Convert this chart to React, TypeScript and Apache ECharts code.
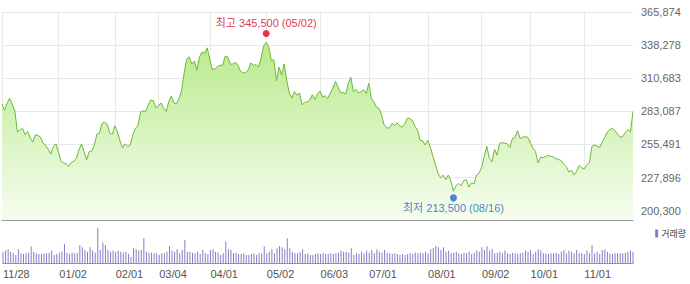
import React, { useEffect, useRef } from "react";
import * as echarts from "echarts";

// Trading days (2018-11-28 .. 2019-11-28), MM/DD
const dates: string[] = [
  "11/28","11/29","11/30",
  "12/03","12/04","12/05","12/06","12/07","12/10","12/11","12/12","12/13","12/14","12/17","12/18","12/19","12/20","12/21","12/24","12/26","12/27","12/28",
  "01/02","01/03","01/04","01/07","01/08","01/09","01/10","01/11","01/14","01/15","01/16","01/17","01/18","01/21","01/22","01/23","01/24","01/25","01/28","01/29","01/30","01/31",
  "02/01","02/07","02/08","02/11","02/12","02/13","02/14","02/15","02/18","02/19","02/20","02/21","02/22","02/25","02/26","02/27","02/28",
  "03/04","03/05","03/06","03/07","03/08","03/11","03/12","03/13","03/14","03/15","03/18","03/19","03/20","03/21","03/22","03/25","03/26","03/27","03/28","03/29",
  "04/01","04/02","04/03","04/04","04/05","04/08","04/09","04/10","04/11","04/12","04/15","04/16","04/17","04/18","04/19","04/22","04/23","04/24","04/25","04/26","04/29","04/30",
  "05/02","05/03","05/07","05/08","05/09","05/10","05/13","05/14","05/15","05/16","05/17","05/20","05/21","05/22","05/23","05/24","05/27","05/28","05/29","05/30","05/31",
  "06/03","06/04","06/05","06/07","06/10","06/11","06/12","06/13","06/14","06/17","06/18","06/19","06/20","06/21","06/24","06/25","06/26","06/27","06/28",
  "07/01","07/02","07/03","07/04","07/05","07/08","07/09","07/10","07/11","07/12","07/15","07/16","07/17","07/18","07/19","07/22","07/23","07/24","07/25","07/26","07/29","07/30","07/31",
  "08/01","08/02","08/05","08/06","08/07","08/08","08/09","08/12","08/13","08/14","08/16","08/19","08/20","08/21","08/22","08/23","08/26","08/27","08/28","08/29","08/30",
  "09/02","09/03","09/04","09/05","09/06","09/09","09/10","09/11","09/16","09/17","09/18","09/19","09/20","09/23","09/24","09/25","09/26","09/27","09/30",
  "10/01","10/02","10/04","10/07","10/08","10/10","10/11","10/14","10/15","10/16","10/17","10/18","10/21","10/22","10/23","10/24","10/25","10/28","10/29","10/30","10/31",
  "11/01","11/04","11/05","11/06","11/07","11/08","11/11","11/12","11/13","11/14","11/15","11/18","11/19","11/20","11/21","11/22","11/25","11/26","11/27","11/28",
];

// Closing prices
const closes: number[] = [
  289000,284000,290000,294000,289000,283500,266000,267500,269000,263500,
  266500,261000,257500,263500,263000,261500,256500,255000,251500,247500,
  253500,256000,249500,241500,240000,239500,237000,240500,241500,244000,
  251000,256000,249500,242500,249500,250000,255000,264000,265000,273000,
  274000,272500,265000,264000,271000,266000,258500,252500,256000,254000,
  255000,263500,269000,271000,282500,283500,283000,288500,292500,292000,
  286000,288000,290000,286000,283000,291000,296000,290000,289500,294000,
  300000,315000,326500,328500,322500,325000,317500,328500,332500,331500,
  336000,326500,318000,318500,320500,321500,321500,329000,328500,322500,
  322500,324000,321500,316500,315000,315500,317500,323500,321500,322000,
  320000,327500,337500,340500,337000,325500,326000,308500,320000,313500,
  322500,309000,298500,294000,299500,296500,298500,288500,290500,291000,
  292500,297000,293000,298000,300000,295000,296000,294000,298500,302500,
  308000,303500,298500,299000,297500,306500,311500,299500,301500,298500,
  299500,301000,298000,306500,294000,291000,286500,285500,280000,271500,
  269500,269000,273000,271500,273500,271000,270000,272500,277500,277000,
  275500,270500,267500,259000,258500,255000,259000,253000,245500,238500,
  231500,227500,230000,226000,230000,225000,216500,221000,223000,221000,
  225500,226000,220000,223500,222500,230000,231500,236500,245500,254000,
  244000,241000,251500,246500,256500,257000,256500,256000,253000,260500,
  261500,267000,260500,261500,262000,261500,256500,252500,249500,240000,
  245000,244500,245500,246500,245500,245000,243500,243000,242000,239000,
  237000,232500,234000,230000,233000,238000,236000,235000,238500,240500,
  254000,255000,254000,253000,257500,261500,266000,268000,269000,267000,
  264000,261500,262000,265500,268000,266000,283000,
];

// Volume (thousand shares)
const volumesK: number[] = [
  117,127,140,117,100,83,140,100,93,100,
  107,167,117,100,93,93,100,100,107,127,
  83,93,107,117,193,107,93,107,100,100,
  183,160,133,117,160,127,107,350,133,207,
  183,133,117,127,117,127,117,107,117,93,
  67,150,140,127,133,250,117,107,107,100,
  100,83,100,100,117,173,127,117,140,100,
  133,233,117,117,107,100,117,93,133,100,
  93,133,140,117,107,83,100,217,140,133,
  100,107,93,93,100,83,83,93,100,83,
  100,100,167,100,117,140,100,150,173,160,
  140,250,150,117,100,100,117,140,93,100,
  83,83,93,100,93,100,93,93,100,93,
  100,107,127,117,113,
  107,150,83,100,93,117,100,127,107,133,
  100,140,117,107,133,107,100,93,100,93,
  83,93,83,93,100,93,107,100,107,100,
  117,100,140,150,173,160,133,160,117,127,
  100,107,117,100,93,107,100,117,93,107,
  127,117,160,133,173,127,140,100,107,117,
  100,127,100,93,107,100,93,100,107,127,
  117,133,93,117,140,127,100,100,93,100,
  100,107,93,117,133,100,127,117,100,133,
  100,100,93,127,100,183,100,117,93,133,
  140,117,100,93,100,100,100,100,107,117,
  127,117,
];

// X-axis tick labels (month starts shown)
const tickDates: string[] = ["11/28","01/02","02/01","03/04","04/01","05/02","06/03","07/01","08/01","09/02","10/01","11/01"];

// Y-axis tick labels
const yTicks: number[] = [200300, 227896, 255491, 283087, 310683, 338278, 365874];

// Period high / low (intraday)
const highPoint = { date: "05/02", value: 345500 };
const lowPoint = { date: "08/16", value: 213500 };

const Y_MAX = 365874;
const Y_MIN = 192540;

const FONT = '"Liberation Sans", "Noto Sans CJK KR", Arial, sans-serif';
const fmt = (v: number) => Math.round(v).toLocaleString("en-US");
const tickIndices = tickDates.map((d) => dates.indexOf(d));
const isTick = (i: number) => tickIndices.includes(i);

export default function App() {
  const ref = useRef<HTMLDivElement>(null);

  useEffect(() => {
    if (!ref.current) return;
    const chart = echarts.init(ref.current, null, { renderer: "svg" });
    const hiIdx = dates.indexOf(highPoint.date);
    const loIdx = dates.indexOf(lowPoint.date);

    chart.setOption({
      animation: false,
      backgroundColor: "#ffffff",
      textStyle: { fontFamily: FONT },
      grid: [
        { left: 2, right: 57, top: 12, height: 208 },
        { left: 2, right: 57, top: 227, height: 36.5 },
      ],
      legend: {
        data: ["거래량"],
        right: 4,
        top: 229,
        padding: 0,
        icon: "rect",
        itemWidth: 3,
        itemHeight: 8,
        itemGap: 0,
        textStyle: { fontSize: 9, color: "#444", fontFamily: FONT, padding: [0, 0, 0, -2] },
      },
      xAxis: [
        {
          type: "category",
          gridIndex: 0,
          data: dates,
          boundaryGap: false,
          axisLine: { lineStyle: { color: "#999", width: 1 } },
          axisTick: { show: false },
          axisLabel: { show: false },
          splitLine: { show: true, interval: (i: number) => isTick(i), lineStyle: { color: "#e8e8e8", width: 1 } },
        },
        {
          type: "category",
          gridIndex: 1,
          data: dates,
          boundaryGap: false,
          axisLine: { lineStyle: { color: "#999", width: 1 } },
          axisTick: { show: false },
          axisLabel: {
            interval: (i: number) => isTick(i),
            align: "left",
            margin: 5,
            fontSize: 11,
            color: "#555",
            fontFamily: FONT,
          },
          splitLine: { show: false },
        },
      ],
      yAxis: [
        {
          type: "value",
          gridIndex: 0,
          position: "right",
          min: Y_MIN,
          max: Y_MAX,
          axisLine: { show: false },
          axisTick: { show: false, customValues: yTicks },
          axisLabel: {
            customValues: yTicks,
            formatter: (v: number) => fmt(v),
            margin: 8,
            fontSize: 11,
            color: "#666",
            fontFamily: FONT,
          },
          splitLine: { show: true, lineStyle: { color: "#e8e8e8", width: 1 } },
        },
        { type: "value", gridIndex: 1, min: 0, max: 360, show: false },
      ],
      series: [
        {
          name: "종가",
          type: "line",
          xAxisIndex: 0,
          yAxisIndex: 0,
          data: closes,
          symbol: "none",
          lineStyle: { color: "#6cb83a", width: 1 },
          areaStyle: {
            color: new echarts.graphic.LinearGradient(0, 0, 0, 1, [
              { offset: 0, color: "#b9ea8b" },
              { offset: 1, color: "#f6fdf0" },
            ]),
            opacity: 1,
          },
          z: 2,
        },
        {
          name: "marks",
          type: "scatter",
          xAxisIndex: 0,
          yAxisIndex: 0,
          symbolSize: 7,
          z: 5,
          data: [
            {
              value: [hiIdx, highPoint.value],
              symbolOffset: [0, -3],
              itemStyle: { color: "#e8001c" },
              label: {
                show: true,
                position: "top",
                distance: 1,
                color: "#d4001a",
                fontSize: 11,
                fontFamily: FONT,
                formatter: `최고 ${fmt(highPoint.value)} (${highPoint.date})`,
              },
            },
            {
              value: [loIdx, lowPoint.value],
              symbolOffset: [0, 3],
              itemStyle: { color: "#1e66cc" },
              label: {
                show: true,
                position: "bottom",
                distance: 1,
                color: "#2160b8",
                fontSize: 11,
                fontFamily: FONT,
                formatter: `최저 ${fmt(lowPoint.value)} (${lowPoint.date})`,
              },
            },
          ],
        },
        {
          name: "거래량",
          type: "bar",
          xAxisIndex: 1,
          yAxisIndex: 1,
          data: volumesK,
          barWidth: 1,
          itemStyle: { color: "#8a7bc4" },
        },
      ],
    });

    return () => chart.dispose();
  }, []);

  return (
    <div
      ref={ref}
      style={{ position: "absolute", left: 0, top: 0, width: 690, height: 284 }}
    />
  );
}
